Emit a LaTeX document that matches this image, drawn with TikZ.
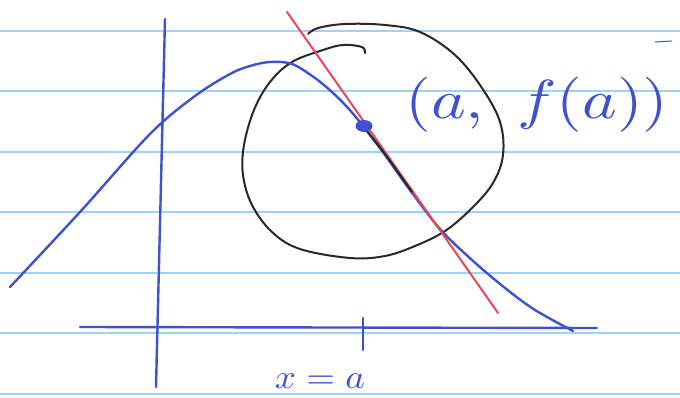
\documentclass[tikz,border=0pt]{standalone}
\usepackage{tikz}
\usepackage{graphicx}
\usetikzlibrary{shapes.geometric}
\definecolor{pen}{RGB}{62,82,205}
\definecolor{ink}{RGB}{40,40,40}
\definecolor{redpen}{RGB}{235,70,90}
\definecolor{rule}{RGB}{160,210,245}
\begin{document}
\begin{tikzpicture}[x=1pt,y=-1pt,
  paper/.style={draw=rule,line width=1.3pt},
  bluepen/.style={draw=pen,line width=2.4pt,line cap=round,line join=round},
  blackpen/.style={draw=ink,line width=2pt,line cap=round,line join=round},
  redline/.style={draw=redpen,line width=2pt,line cap=round},
  handtext/.style={text=pen,inner sep=0pt,font=\normalsize}]
\useasboundingbox[fill=white] (0,0) rectangle (680,398);
% ruled paper
\foreach \yy in {31,91,152,212,273,333,394}
  \draw[paper] (0,\yy) -- (680,\yy);
% axes
\coordinate (ytop) at (165,19);
\coordinate (ybot) at (156,387);
\coordinate (xl) at (80,327);
\coordinate (xr) at (597,328);
\draw[bluepen] (ytop) -- (ybot);
\draw[bluepen] (xl) -- (xr);
\coordinate (tt) at (363,318);
\coordinate (tb) at (363,350);
\draw[bluepen] (tt) -- (tb);
% circle (hand-drawn loop)
\draw[blackpen] plot[smooth,tension=0.6] coordinates {
  (365,53) (362,47) (343,45) (323,50) (292,62) (270,82) (254,110) (244,145)
  (243,175) (252,205) (272,232) (300,249) (350,258) (385,256) (415,246)
  (445,231) (472,208) (493,183) (503,155) (500,122) (482,88) (455,55)
  (420,32) (385,25) (345,24) (318,28) (308,34)};
% curve
\draw[bluepen] plot[smooth,tension=0.55] coordinates {
  (10,287) (80,212) (150,134) (195,96) (230,74) (250,66)
  (270,62) (292,64) (315,78) (333,93) (348,108) (363,126) (385,155)
  (410,190) (440,229) (472,260) (505,288) (535,310) (573,331)};
% tangent line
\coordinate (ra) at (287,12);
\coordinate (rb) at (498,313);
\draw[redline] (ra) -- (rb);
% black overdraw near point
\draw[blackpen] plot[smooth] coordinates {(363,126) (385,154) (412,192)};
% point
\node[fill=pen,ellipse,minimum width=17pt,minimum height=12pt,inner sep=0pt] (P) at (364,126) {};
% labels
\node[handtext] (lab) at (537,105) {\scalebox{6.6}[5.5]{$(a,\ f(a))$}};
\node[handtext] (xa) at (320,381) {\scalebox{3.7}[3.4]{$x=a$}};
\draw[draw=pen,line width=1pt] (655,42) -- (672,41);
\end{tikzpicture}
\end{document}
